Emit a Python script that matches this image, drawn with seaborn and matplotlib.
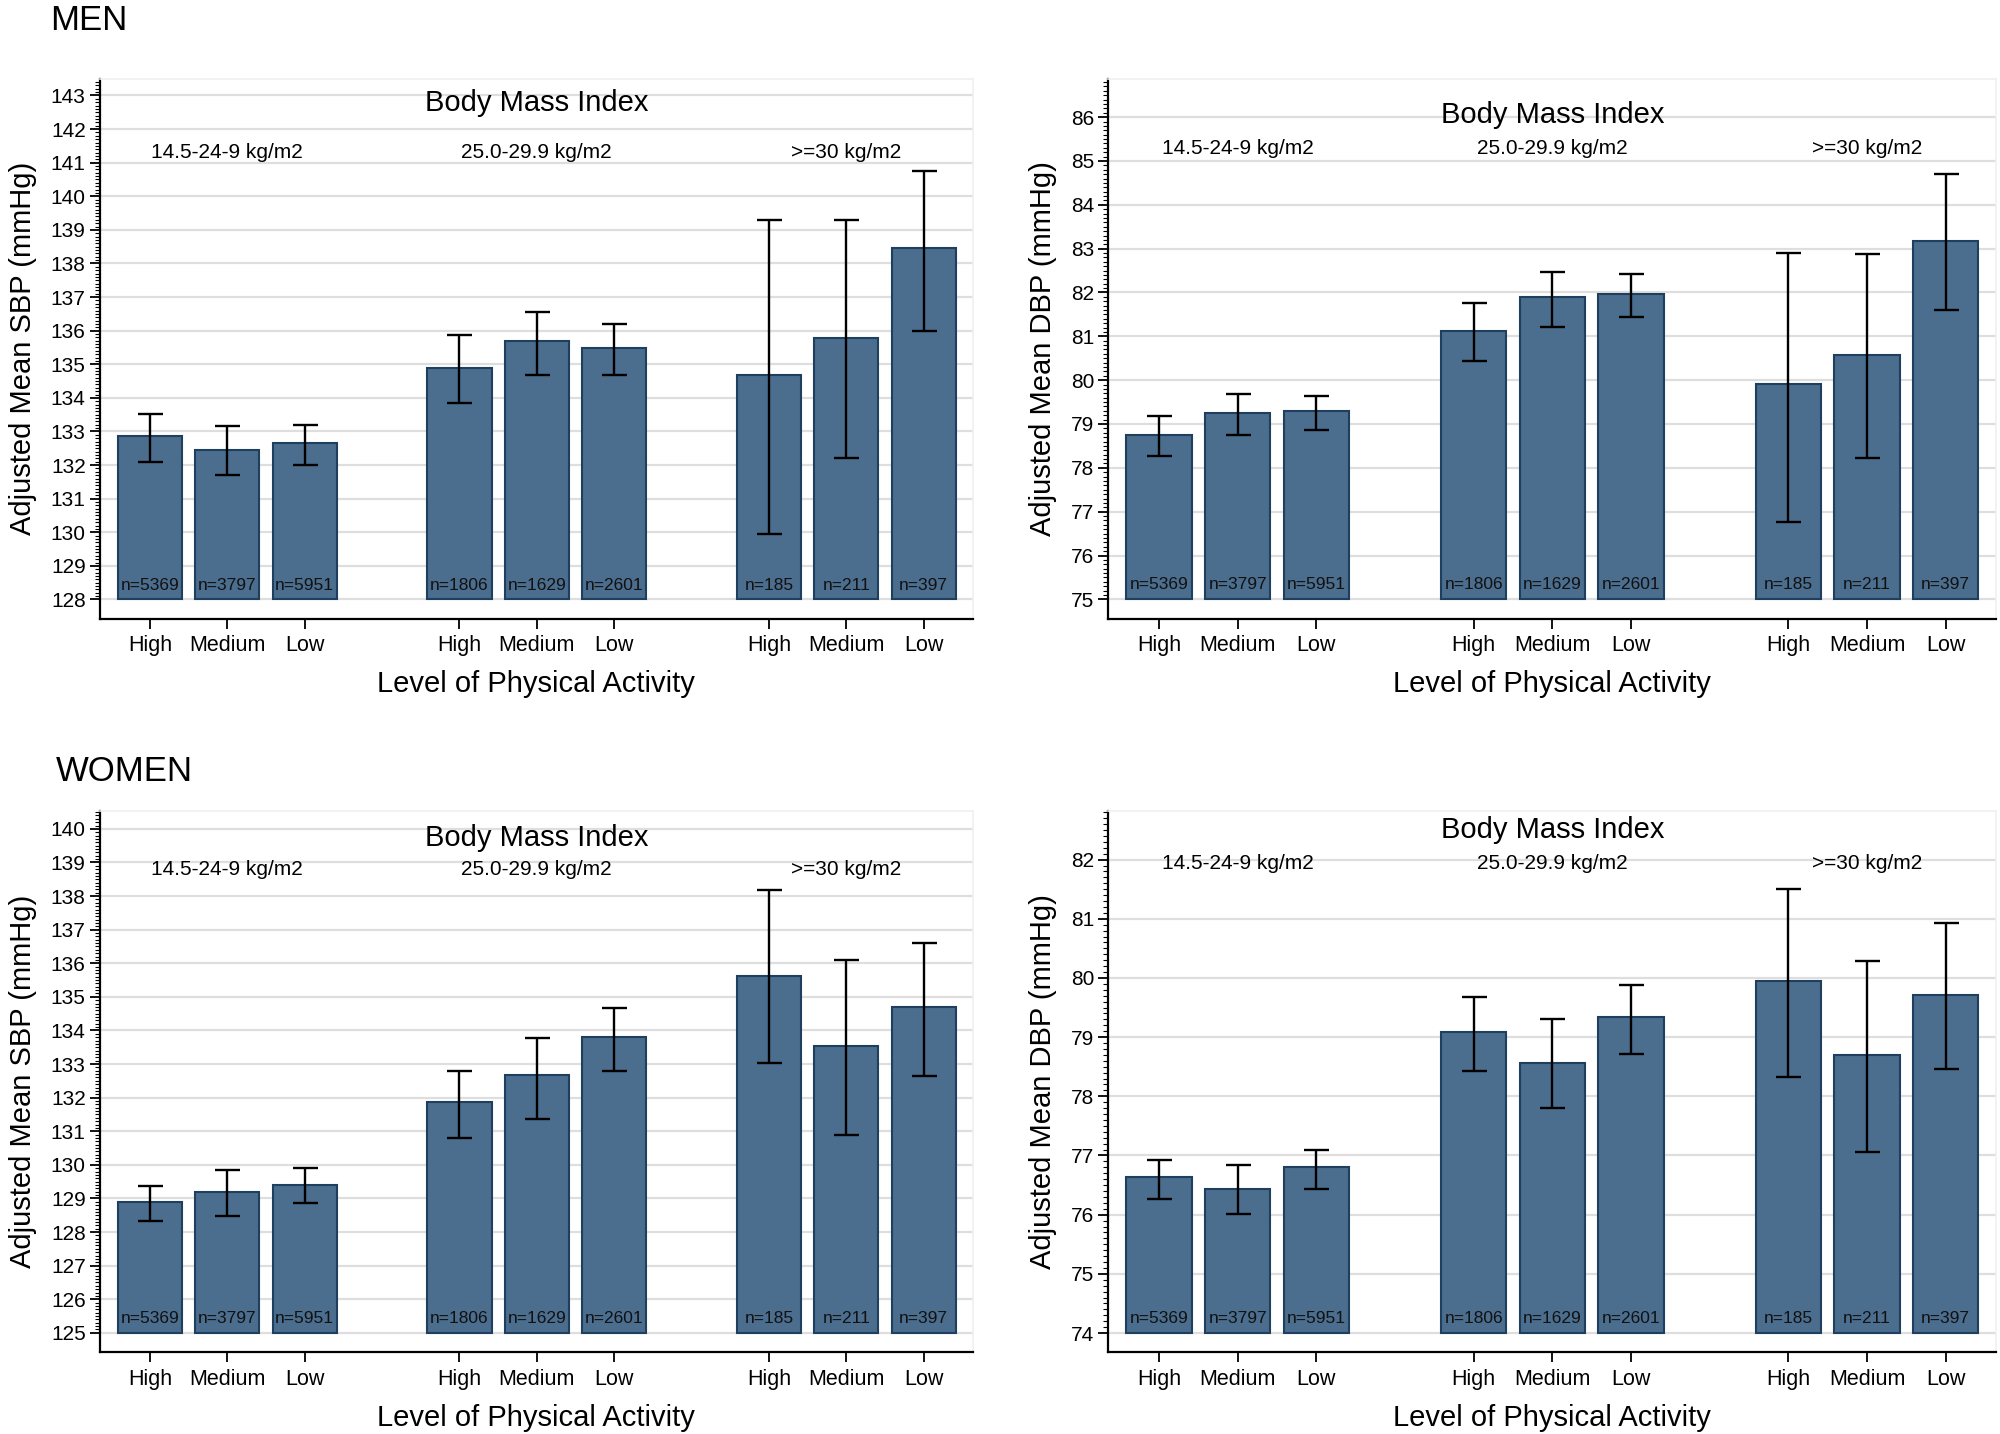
import numpy as np
import pandas as pd
import matplotlib
matplotlib.use("Agg")
import matplotlib.pyplot as plt
import seaborn as sns
from matplotlib.ticker import FixedLocator

# values
levels = ["High", "Medium", "Low"]
bmi_groups = ["14.5-24-9 kg/m2", "25.0-29.9 kg/m2", ">=30 kg/m2"]
n_counts = [5369, 3797, 5951, 1806, 1629, 2601, 185, 211, 397]

men_sbp_mean = [132.88, 132.46, 132.66, 134.90, 135.70, 135.47, 134.68, 135.78, 138.45]
men_sbp_lo = [132.10, 131.71, 131.99, 133.85, 134.67, 134.67, 129.94, 132.20, 136.00]
men_sbp_hi = [133.52, 133.15, 133.20, 135.88, 136.57, 136.20, 139.28, 139.30, 140.75]

men_dbp_mean = [78.75, 79.24, 79.30, 81.12, 81.90, 81.96, 79.91, 80.57, 83.17]
men_dbp_lo = [78.26, 78.75, 78.87, 80.44, 81.22, 81.43, 76.77, 78.22, 81.60]
men_dbp_hi = [79.18, 79.68, 79.64, 81.75, 82.46, 82.43, 82.90, 82.88, 84.70]

women_sbp_mean = [128.90, 129.18, 129.41, 131.86, 132.66, 133.81, 135.62, 133.53, 134.69]
women_sbp_lo = [128.33, 128.49, 128.85, 130.80, 131.37, 132.80, 133.02, 130.89, 132.63]
women_sbp_hi = [129.38, 129.84, 129.91, 132.80, 133.78, 134.68, 138.18, 136.10, 136.61]

women_dbp_mean = [76.64, 76.43, 76.80, 79.09, 78.56, 79.34, 79.95, 78.69, 79.71]
women_dbp_lo = [76.27, 76.01, 76.43, 78.43, 77.81, 78.71, 78.32, 77.06, 78.46]
women_dbp_hi = [76.93, 76.84, 77.10, 79.68, 79.30, 79.88, 81.51, 80.28, 80.93]

bar_fill = "#4b6d8e"
bar_edge = "#1e3f5e"

sns.set_style("white")
plt.rcParams["font.family"] = ["Liberation Sans", "DejaVu Sans"]
plt.rcParams["text.color"] = "black"
plt.rcParams["axes.labelcolor"] = "black"
plt.rcParams["xtick.color"] = "black"
plt.rcParams["ytick.color"] = "black"

fig = plt.figure(figsize=(20, 14.34), dpi=100)

# group g, level k -> position g*4 + k (gap of one slot between BMI groups)
pos = [g * 4 + k for g in range(3) for k in range(3)]

panels = [
    dict(rect=[0.0498, 0.5686, 0.4368, 0.3763], mean=men_sbp_mean, lo=men_sbp_lo, hi=men_sbp_hi,
         base=128, ylim=(127.43, 143.49), ylabel="Adjusted Mean SBP (mmHg)", bmi_y=0.955, grp_y=0.863),
    dict(rect=[0.554, 0.5686, 0.444, 0.3763], mean=men_dbp_mean, lo=men_dbp_lo, hi=men_dbp_hi,
         base=75, ylim=(74.56, 86.87), ylabel="Adjusted Mean DBP (mmHg)", bmi_y=0.934, grp_y=0.872),
    dict(rect=[0.0498, 0.0572, 0.4368, 0.3772], mean=women_sbp_mean, lo=women_sbp_lo, hi=women_sbp_hi,
         base=125, ylim=(124.43, 140.53), ylabel="Adjusted Mean SBP (mmHg)", bmi_y=0.950, grp_y=0.892),
    dict(rect=[0.554, 0.0572, 0.444, 0.3772], mean=women_dbp_mean, lo=women_dbp_lo, hi=women_dbp_hi,
         base=74, ylim=(73.68, 82.82), ylabel="Adjusted Mean DBP (mmHg)", bmi_y=0.965, grp_y=0.903),
]

for p in panels:
    ax = fig.add_axes(p["rect"])
    df = pd.DataFrame({"pos": pos, "mean": p["mean"]})
    sns.barplot(data=df, x="pos", y="mean", native_scale=True, width=0.83,
                color=bar_fill, saturation=1, edgecolor=bar_edge, linewidth=1.5,
                errorbar=None, ax=ax, zorder=2)
    # bars start at the panel's base value, not at zero
    for patch in ax.patches:
        top = patch.get_height()
        patch.set_y(p["base"])
        patch.set_height(top - p["base"])

    mean = np.array(p["mean"])
    yerr = [mean - np.array(p["lo"]), np.array(p["hi"]) - mean]
    ax.errorbar(pos, mean, yerr=yerr, fmt="none", ecolor="black",
                elinewidth=1.7, capsize=9, capthick=1.7, zorder=3)

    for x, n in zip(pos, n_counts):
        ax.annotate(f"n={n}", (x, p["base"]), xytext=(0, 5), textcoords="offset points",
                    ha="center", va="bottom", fontsize=12.5, color="#111111", zorder=4)

    ax.set_xlim(-0.65, 10.64)
    ax.set_ylim(*p["ylim"])
    majors = np.arange(p["base"], np.floor(p["ylim"][1]) + 1)
    ax.yaxis.set_major_locator(FixedLocator(majors))
    ax.yaxis.set_minor_locator(FixedLocator(np.arange(p["base"], p["ylim"][1], 0.1)))
    ax.set_yticklabels([f"{int(v)}" for v in majors])
    ax.set_xticks(pos)
    ax.set_xticklabels(levels * 3)

    ax.yaxis.grid(True, which="major", color="#dedede", linewidth=1.6)
    ax.set_axisbelow(True)

    ax.tick_params(axis="y", which="major", length=7, width=1.3, labelsize=15, pad=3, left=True)
    ax.tick_params(axis="y", which="minor", length=3.5, width=0.8, left=True)
    ax.tick_params(axis="x", which="major", length=7, width=1.3, labelsize=15.5, pad=5, bottom=True)

    for side in ["left", "bottom"]:
        ax.spines[side].set_color("black")
        ax.spines[side].set_linewidth(1.6)
    for side in ["top", "right"]:
        ax.spines[side].set_color("#f0f0f0")
        ax.spines[side].set_linewidth(1.2)

    ax.set_ylabel(p["ylabel"], fontsize=21, labelpad=10)
    ax.set_xlabel("Level of Physical Activity", fontsize=21, labelpad=10)

    ax.text(5, p["bmi_y"], "Body Mass Index", transform=ax.get_xaxis_transform(),
            ha="center", va="center", fontsize=21)
    for g, label in enumerate(bmi_groups):
        ax.text(g * 4 + 1, p["grp_y"], label, transform=ax.get_xaxis_transform(),
                ha="center", va="center", fontsize=15)

fig.text(0.025, 0.979, "MEN", fontsize=25, ha="left", va="baseline")
fig.text(0.028, 0.4554, "WOMEN", fontsize=25, ha="left", va="baseline")

fig.savefig("out.png", dpi=100)
